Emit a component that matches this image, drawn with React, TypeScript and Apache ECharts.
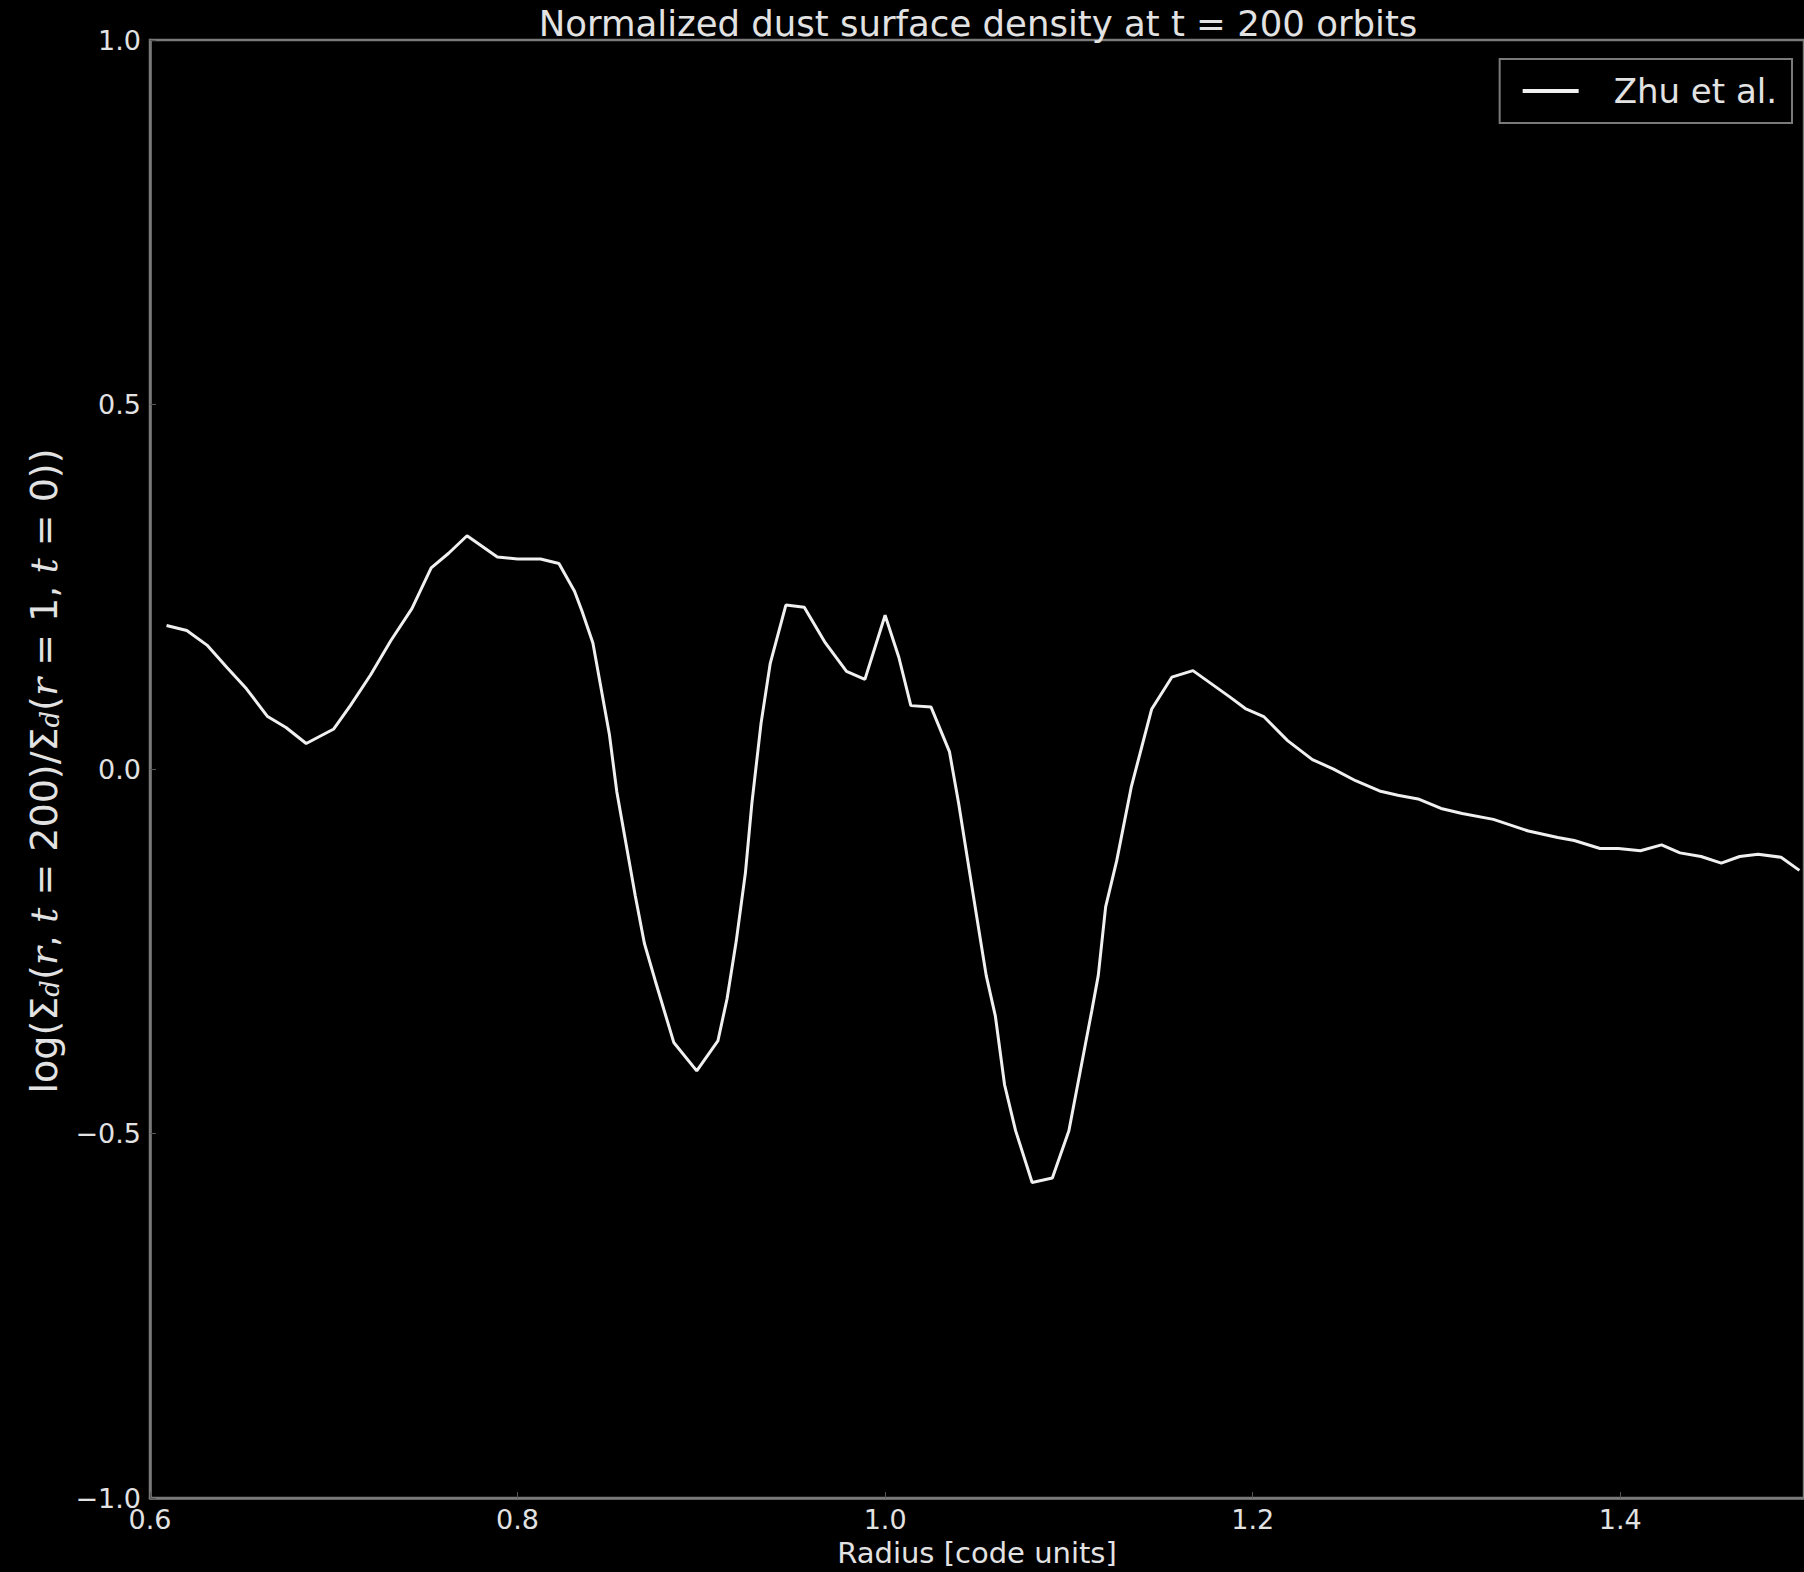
import React, { useEffect, useRef } from "react";
import * as echarts from "echarts";

const radius = [0.609,0.62,0.631,0.642,0.6525,0.664,0.674,0.685,0.70,0.709,0.72,0.731,0.7425,0.753,0.7625,0.7725,0.789,0.80,0.8125,0.8225,0.831,0.835,0.841,0.845,0.85,0.854,0.859,0.864,0.869,0.875,0.885,0.8975,0.909,0.914,0.919,0.924,0.9275,0.9325,0.9375,0.946,0.956,0.9675,0.979,0.989,1.0,1.0075,1.014,1.025,1.035,1.04,1.045,1.05,1.055,1.06,1.065,1.071,1.08,1.091,1.1,1.106,1.1125,1.116,1.12,1.126,1.134,1.145,1.156,1.1675,1.1875,1.196,1.206,1.219,1.2325,1.244,1.256,1.269,1.279,1.29,1.3025,1.314,1.331,1.35,1.366,1.375,1.389,1.399,1.411,1.4225,1.4325,1.444,1.455,1.465,1.475,1.4875,1.4975];

const zhuValues = [0.197,0.19,0.17,0.139,0.11,0.072,0.057,0.035,0.055,0.087,0.129,0.176,0.22,0.276,0.296,0.32,0.291,0.288,0.288,0.282,0.244,0.217,0.173,0.117,0.047,-0.031,-0.102,-0.173,-0.239,-0.291,-0.375,-0.414,-0.373,-0.315,-0.236,-0.142,-0.047,0.063,0.145,0.225,0.222,0.173,0.134,0.123,0.211,0.153,0.087,0.085,0.024,-0.047,-0.126,-0.205,-0.283,-0.339,-0.433,-0.496,-0.567,-0.561,-0.496,-0.417,-0.331,-0.283,-0.189,-0.126,-0.024,0.082,0.126,0.135,0.099,0.083,0.072,0.039,0.013,0.0,-0.016,-0.03,-0.036,-0.041,-0.054,-0.061,-0.069,-0.085,-0.094,-0.098,-0.109,-0.109,-0.112,-0.104,-0.115,-0.12,-0.129,-0.12,-0.117,-0.121,-0.139];

const seriesName = "Zhu et al.";
const titleText = "Normalized dust surface density at t = 200 orbits";
const xAxisTitle = "Radius [code units]";

const TEXT = "#e2e2e2";
const SPINE = "#7a7a7a";

export default function App() {
  const ref = useRef<HTMLDivElement>(null);
  useEffect(() => {
    document.body.style.margin = "0";
    document.body.style.background = "#000";
    const chart = echarts.init(ref.current!, null, { renderer: "svg" });
    const data = radius.map((r, i) => [r, zhuValues[i]]);
    chart.setOption({
      animation: false,
      backgroundColor: "#000000",
      grid: {
        left: 150,
        right: 0,
        top: 40,
        bottom: 71,
        show: true,
        borderColor: SPINE,
        borderWidth: 2.5,
        backgroundColor: "transparent",
      },
      legend: {
        right: 12,
        top: 59,
        padding: [15, 15, 15, 23],
        borderColor: SPINE,
        borderWidth: 2,
        backgroundColor: "#000",
        itemWidth: 56,
        itemHeight: 4,
        icon: "rect",
        textStyle: {
          color: TEXT,
          fontSize: 34,
          fontFamily: "DejaVu Sans",
          padding: [0, 0, 0, 30],
        },
        data: [{ name: seriesName, itemStyle: { color: "#f0f0f0" } }],
      },
      xAxis: {
        type: "value",
        min: 0.6,
        max: 1.5,
        interval: 0.2,
        name: xAxisTitle,
        nameLocation: "middle",
        nameGap: 36,
        nameTextStyle: { color: TEXT, fontSize: 29, fontFamily: "DejaVu Sans" },
        axisLine: { show: true, onZero: false, lineStyle: { color: SPINE, width: 2.5 } },
        axisTick: { show: true, inside: true, length: 6, lineStyle: { color: "#555" } },
        splitLine: { show: false },
        axisLabel: {
          color: TEXT,
          fontSize: 27,
          fontFamily: "DejaVu Sans",
          margin: 8,
          showMaxLabel: false,
          formatter: (v: number) => v.toFixed(1),
        },
      },
      yAxis: {
        type: "value",
        min: -1,
        max: 1,
        interval: 0.5,
        axisLine: { show: true, onZero: false, lineStyle: { color: SPINE, width: 2.5 } },
        axisTick: { show: true, inside: true, length: 6, lineStyle: { color: "#555" } },
        splitLine: { show: false },
        axisLabel: {
          color: TEXT,
          fontSize: 27,
          fontFamily: "DejaVu Sans",
          margin: 9,
          formatter: (v: number) => (v < 0 ? "\u2212" + Math.abs(v).toFixed(1) : v.toFixed(1)),
        },
      },
      graphic: [
        {
          type: "text",
          x: 978,
          y: 23,
          style: {
            text: titleText,
            fill: TEXT,
            fontSize: 35.5,
            fontFamily: "DejaVu Sans",
            align: "center",
            verticalAlign: "middle",
          },
        },
        {
          type: "text",
          x: 44,
          y: 771,
          rotation: Math.PI / 2,
          style: {
            text:
              "{n|log(Σ}{s|d}{n|(}{i|r}{n|, }{i|t}{n| = 200)/Σ}{s|d}{n|(}{i|r}{n| = 1, }{i|t}{n| = 0))}",
            fill: TEXT,
            align: "center",
            verticalAlign: "middle",
            rich: {
              n: { fontSize: 38, fontFamily: "DejaVu Sans", fill: TEXT },
              i: { fontSize: 38, fontFamily: "DejaVu Serif", fontStyle: "italic", fill: TEXT },
              s: {
                fontSize: 26,
                fontFamily: "DejaVu Serif",
                fontStyle: "italic",
                fill: TEXT,
                verticalAlign: "bottom",
              },
            },
          },
        },
      ],
      series: [
        {
          name: seriesName,
          type: "line",
          data,
          showSymbol: false,
          symbol: "none",
          lineStyle: { color: "#f0f0f0", width: 3 },
          itemStyle: { color: "#f0f0f0" },
        },
      ],
    });
    return () => chart.dispose();
  }, []);
  return <div ref={ref} style={{ width: 1804, height: 1572 }} />;
}
